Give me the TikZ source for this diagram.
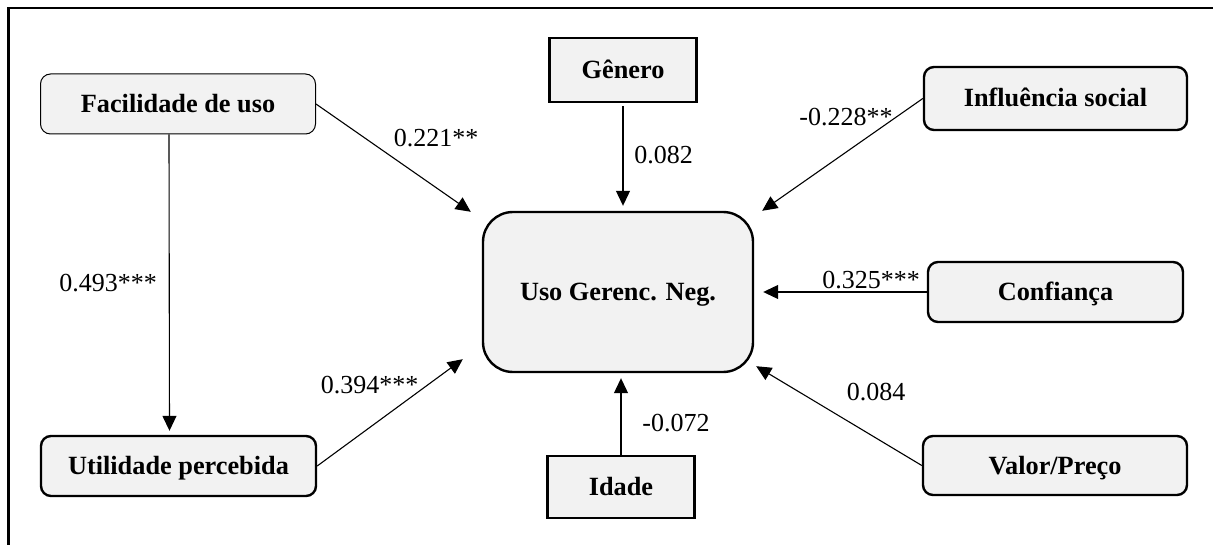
\documentclass[tikz,border=0pt]{standalone}
\usepackage{fontspec}
\setmainfont{Liberation Serif}
\usetikzlibrary{arrows.meta,calc}
\definecolor{boxgray}{HTML}{F2F2F2}
\begin{document}
\begin{tikzpicture}[x=1pt,y=-1pt,
  box/.style={draw=black, fill=boxgray, line width=2.4pt, rounded corners=10pt,
    inner sep=0pt, font=\fontsize{26.3}{30}\selectfont\bfseries,
    text height=17pt, text depth=0pt},
  thinbox/.style={box, line width=1pt},
  sqbox/.style={box, sharp corners},
  coef/.style={inner sep=0pt, font=\fontsize{26}{30}\selectfont,
    text height=17.5pt, text depth=0pt},
  link/.style={line width=1.1pt, -{Triangle[length=15pt,width=14pt]}},
]
% page extent
\useasboundingbox (0,0) rectangle (1213,545);
% frame on the top and left sides
\draw[line width=2.6pt] (8.5,545) -- (8.5,8) -- (1213,8);

% constructs
\node[box, minimum width=270pt, minimum height=160pt, rounded corners=30pt] (uso) at (618,292) {Uso Gerenc. Neg.};
\node[thinbox, minimum width=275pt, minimum height=60pt] (fac) at (178,104) {Facilidade de uso};
\node[box, minimum width=275pt, minimum height=60pt] (util) at (178.5,466) {Utilidade percebida};
\node[sqbox, minimum width=147pt, minimum height=64pt] (gen) at (623,70) {Gênero};
\node[sqbox, minimum width=147pt, minimum height=62pt] (ida) at (621,487) {Idade};
\node[box, minimum width=263pt, minimum height=63pt] (inf) at (1055.5,98.5) {Influência social};
\node[box, minimum width=255pt, minimum height=60pt] (conf) at (1055.5,292) {Confiança};
\node[box, minimum width=264pt, minimum height=59pt] (val) at (1055,465.5) {Valor/Preço};

% arrow end points near the central construct
\coordinate (tFac) at ($(uso.north west)+(-11,1)$);
\coordinate (tUtil) at ($(uso.south west)+(-19,-14)$);
\coordinate (tInf) at ($(uso.north east)+(8,0)$);
\coordinate (tVal) at ($(uso.south east)+(2,-7)$);

% paths
\draw[link] (fac.east) -- (tFac);
\draw[link] (util.east) -- (tUtil);
\draw[link, shorten <=3pt, shorten >=5pt] (gen.south) -- (gen.south |- uso.north);
\draw[link, shorten >=5pt] (ida.north) -- (ida.north |- uso.south);
\draw[link] (inf.west) -- (tInf);
\draw[link, shorten >=9pt] (conf.west) -- (conf.west -| uso.east);
\draw[link] (val.west) -- (tVal);
\draw[link, shorten >=4pt] ($(fac.south)+(-9,0)$) -- ($(util.north)+(-9,0)$);

% path coefficients
\node[coef] (c1) at (436,138) {0.221**};
\node[coef] (c2) at (663.5,155) {0.082};
\node[coef] (c3) at (846,117) {-0.228**};
\node[coef] (c4) at (871,280) {0.325***};
\node[coef] (c5) at (876,392) {0.084};
\node[coef] (c6) at (676,423) {-0.072};
\node[coef] (c7) at (369.5,385) {0.394***};
\node[coef] (c8) at (108,283) {0.493***};
\end{tikzpicture}
\end{document}
